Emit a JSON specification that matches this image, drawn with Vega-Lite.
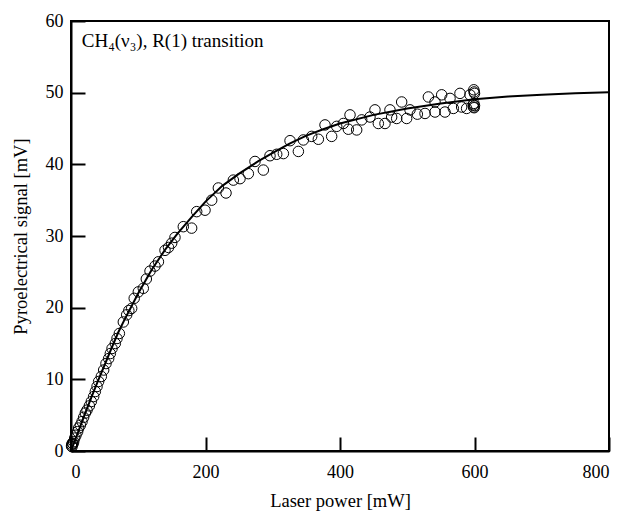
{
  "$schema": "https://vega.github.io/schema/vega-lite/v6.json",
  "width": 538,
  "height": 430,
  "autosize": "none",
  "padding": {"left": 71, "top": 21, "right": 16, "bottom": 61},
  "background": "white",
  "config": {
    "view": {"stroke": "black", "strokeWidth": 2},
    "axis": {
      "domainColor": "black", "domainWidth": 2,
      "tickColor": "black", "tickWidth": 2, "tickSize": -14,
      "grid": false,
      "labelFont": "Liberation Serif", "labelFontSize": 18, "labelColor": "black",
      "titleFont": "Liberation Serif", "titleFontSize": 18.5, "titleFontWeight": "normal", "titleColor": "black"
    }
  },
  "datasets": {
    "pts": [
      {"power": 0.8, "signal": 0.7}, {"power": 1.2, "signal": 0.9}, {"power": 2.0, "signal": 1.1}, {"power": 1.5, "signal": 0.6},
      {"power": 3.0, "signal": 1.0}, {"power": 4.0, "signal": 1.3}, {"power": 5.5, "signal": 1.8}, {"power": 7.4, "signal": 2.2},
      {"power": 9.9, "signal": 2.7}, {"power": 11.4, "signal": 3.2}, {"power": 13.9, "signal": 3.6}, {"power": 16.4, "signal": 4.1},
      {"power": 18.8, "signal": 4.7}, {"power": 21.3, "signal": 5.3}, {"power": 23.8, "signal": 5.7}, {"power": 27.3, "signal": 6.3},
      {"power": 30.2, "signal": 6.9}, {"power": 33.7, "signal": 7.6}, {"power": 36.2, "signal": 8.3}, {"power": 38.7, "signal": 9.0},
      {"power": 41.1, "signal": 9.7}, {"power": 45.1, "signal": 10.4}, {"power": 48.6, "signal": 11.3}, {"power": 52.0, "signal": 12.2},
      {"power": 56.0, "signal": 12.9}, {"power": 58.5, "signal": 13.6}, {"power": 61.0, "signal": 14.3}, {"power": 65.9, "signal": 15.0},
      {"power": 68.4, "signal": 15.7}, {"power": 71.9, "signal": 16.4}, {"power": 77.8, "signal": 18.0}, {"power": 82.8, "signal": 19.0},
      {"power": 86.0, "signal": 19.6}, {"power": 90.2, "signal": 19.9}, {"power": 94.0, "signal": 21.3}, {"power": 100.1, "signal": 22.2},
      {"power": 107.5, "signal": 22.7}, {"power": 112.0, "signal": 24.0}, {"power": 117.5, "signal": 25.1}, {"power": 124.9, "signal": 25.8},
      {"power": 130.0, "signal": 26.4}, {"power": 139.8, "signal": 28.0}, {"power": 145.0, "signal": 28.4}, {"power": 149.7, "signal": 29.0},
      {"power": 154.6, "signal": 29.8}, {"power": 167.0, "signal": 31.3}, {"power": 179.4, "signal": 31.1}, {"power": 186.9, "signal": 33.4},
      {"power": 199.3, "signal": 33.6}, {"power": 209.2, "signal": 35.0}, {"power": 219.1, "signal": 36.7}, {"power": 230.5, "signal": 36.0},
      {"power": 241.4, "signal": 37.8}, {"power": 251.3, "signal": 38.0}, {"power": 263.7, "signal": 38.7}, {"power": 273.6, "signal": 40.4},
      {"power": 286.0, "signal": 39.2}, {"power": 295.9, "signal": 41.2}, {"power": 305.9, "signal": 41.4}, {"power": 315.8, "signal": 41.5},
      {"power": 325.7, "signal": 43.3}, {"power": 338.1, "signal": 41.8}, {"power": 345.5, "signal": 43.4}, {"power": 357.9, "signal": 43.9},
      {"power": 367.8, "signal": 43.5}, {"power": 377.7, "signal": 45.5}, {"power": 387.6, "signal": 43.9}, {"power": 395.1, "signal": 45.3},
      {"power": 405.0, "signal": 45.7}, {"power": 414.9, "signal": 46.9}, {"power": 412.4, "signal": 44.9}, {"power": 424.8, "signal": 44.8},
      {"power": 432.3, "signal": 46.2}, {"power": 444.6, "signal": 46.6}, {"power": 452.0, "signal": 47.6}, {"power": 457.0, "signal": 45.7},
      {"power": 466.9, "signal": 45.7}, {"power": 474.3, "signal": 47.6}, {"power": 476.8, "signal": 46.6}, {"power": 484.3, "signal": 46.4},
      {"power": 491.7, "signal": 48.7}, {"power": 499.1, "signal": 46.4}, {"power": 504.1, "signal": 47.6}, {"power": 515.0, "signal": 47.0},
      {"power": 526.4, "signal": 47.1}, {"power": 531.4, "signal": 49.4}, {"power": 541.3, "signal": 48.7}, {"power": 541.3, "signal": 47.3},
      {"power": 551.2, "signal": 49.7}, {"power": 556.1, "signal": 47.3}, {"power": 563.6, "signal": 49.2}, {"power": 568.5, "signal": 47.8},
      {"power": 578.4, "signal": 49.9}, {"power": 580.9, "signal": 48.0}, {"power": 588.3, "signal": 47.8}, {"power": 593.3, "signal": 49.7},
      {"power": 598.0, "signal": 48.3}, {"power": 599.0, "signal": 50.4}, {"power": 599.5, "signal": 50.1}, {"power": 600.0, "signal": 49.9},
      {"power": 599.0, "signal": 48.5}, {"power": 600.0, "signal": 48.2}, {"power": 599.5, "signal": 47.9}, {"power": 598.5, "signal": 48.0}
    ],
    "fit": [
      {"power": 0, "signal": 0}, {"power": 10, "signal": 2.5}, {"power": 20, "signal": 5.0}, {"power": 30, "signal": 7.4},
      {"power": 41, "signal": 10.0}, {"power": 50, "signal": 12.0}, {"power": 60, "signal": 14.3}, {"power": 70, "signal": 16.5},
      {"power": 80, "signal": 18.4}, {"power": 90, "signal": 20.2}, {"power": 100, "signal": 22.0}, {"power": 120, "signal": 25.3},
      {"power": 140, "signal": 28.1}, {"power": 158, "signal": 30.3}, {"power": 180, "signal": 32.7}, {"power": 200, "signal": 34.8},
      {"power": 225, "signal": 37.0}, {"power": 250, "signal": 38.7}, {"power": 278, "signal": 40.4}, {"power": 300, "signal": 41.6},
      {"power": 325, "signal": 42.9}, {"power": 350, "signal": 44.0}, {"power": 375, "signal": 44.9}, {"power": 400, "signal": 45.7},
      {"power": 450, "signal": 46.9}, {"power": 500, "signal": 47.8}, {"power": 550, "signal": 48.5}, {"power": 600, "signal": 49.07},
      {"power": 650, "signal": 49.45}, {"power": 700, "signal": 49.72}, {"power": 750, "signal": 49.92}, {"power": 800, "signal": 50.05}
    ],
    "label": [
      {"power": 16, "signal": 56.4, "text": "CH₄(ν₃), R(1) transition"}
    ]
  },
  "layer": [
    {
      "data": {"name": "pts"},
      "mark": {"type": "point", "shape": "circle", "filled": false, "stroke": "black", "strokeWidth": 1, "size": 110, "opacity": 1},
      "encoding": {
        "x": {"field": "power", "type": "quantitative", "scale": {"domain": [0, 800]},
              "axis": {"values": [0, 200, 400, 600, 800], "title": "Laser power [mW]", "labelPadding": 26, "titlePadding": 10}},
        "y": {"field": "signal", "type": "quantitative", "scale": {"domain": [0, 60]},
              "axis": {"values": [0, 10, 20, 30, 40, 50, 60], "title": "Pyroelectrical signal [mV]", "labelPadding": 22, "titlePadding": 15}}
      }
    },
    {
      "data": {"name": "fit"},
      "mark": {"type": "line", "color": "black", "strokeWidth": 2},
      "encoding": {
        "x": {"field": "power", "type": "quantitative"},
        "y": {"field": "signal", "type": "quantitative"}
      }
    },
    {
      "data": {"name": "label"},
      "mark": {"type": "text", "font": "Liberation Serif", "fontSize": 19, "align": "left", "baseline": "alphabetic", "color": "black"},
      "encoding": {
        "x": {"field": "power", "type": "quantitative"},
        "y": {"field": "signal", "type": "quantitative"},
        "text": {"field": "text"}
      }
    }
  ]
}
